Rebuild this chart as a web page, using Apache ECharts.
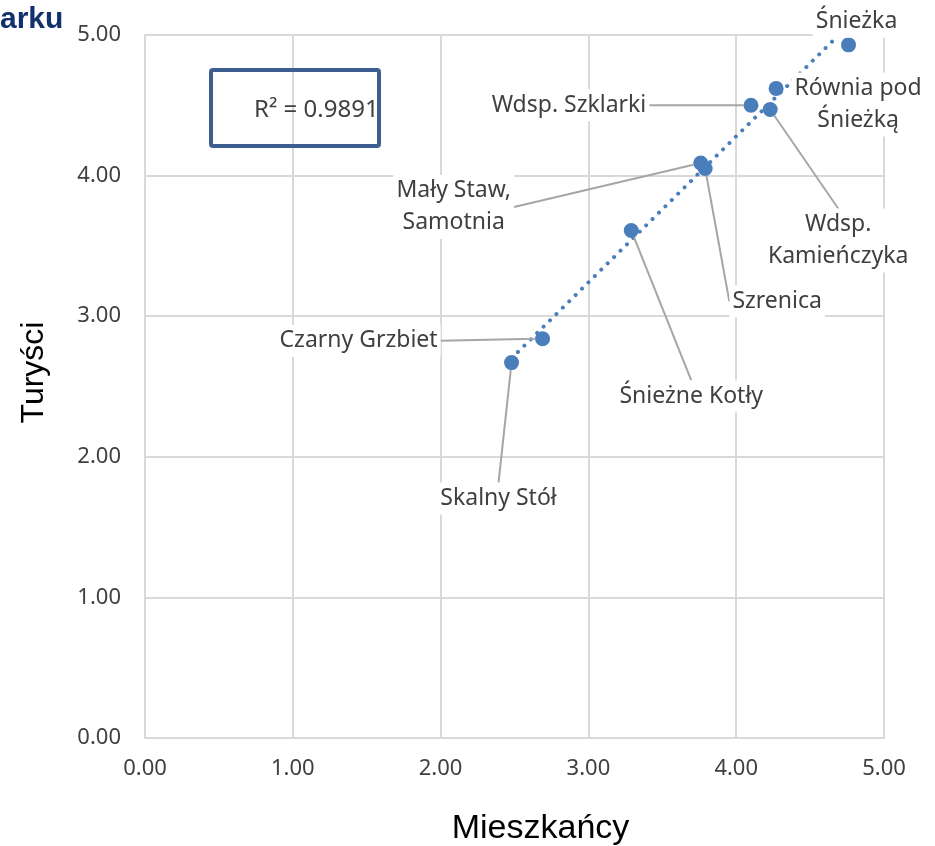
<!DOCTYPE html>
<html>
<head>
<meta charset="utf-8">
<script src="https://cdn.jsdelivr.net/npm/echarts@6/dist/echarts.min.js"></script>
<style>
html,body{margin:0;padding:0;background:#fff;}
#chart{width:935px;height:846px;}
</style>
</head>
<body>
<div id="chart"></div>
<script>
// ---- data ----
const places = ['Śnieżka', 'Równia pod\nŚnieżką', 'Wdsp. Szklarki', 'Wdsp.\nKamieńczyka', 'Mały Staw,\nSamotnia', 'Szrenica', 'Śnieżne Kotły', 'Czarny Grzbiet', 'Skalny Stół'];
const mieszkancy = [4.76, 4.27, 4.10, 4.23, 3.76, 3.79, 3.29, 2.69, 2.48];
const turysci    = [4.93, 4.62, 4.50, 4.47, 4.09, 4.05, 3.61, 2.84, 2.67];
const axisTicks = [0, 1, 2, 3, 4, 5];
const rSquaredText = 'R² = 0.9891';
const titleFragment = 'arku';
const xName = 'Mieszkańcy';
const yName = 'Turyści';

// ---- label placement (pixel offsets of label centre from its point) ----
const labelOffsets = {
  'Śnieżka': [8, -23, false],
  'Równia pod\nŚnieżką': [82, 16, false],
  'Wdsp. Szklarki': [-182, 0, true],
  'Wdsp.\nKamieńczyka': [68, 131, true],
  'Mały Staw,\nSamotnia': [-247, 44, true],
  'Szrenica': [72, 133, true],
  'Śnieżne Kotły': [60, 166, true],
  'Czarny Grzbiet': [-184, 2, true],
  'Skalny Stół': [-13, 136, true]
};

// linear trendline (least squares) from the data
const n = mieszkancy.length;
const mx = mieszkancy.reduce((a, b) => a + b, 0) / n;
const my = turysci.reduce((a, b) => a + b, 0) / n;
let sxy = 0, sxx = 0;
for (let i = 0; i < n; i++) { sxy += (mieszkancy[i] - mx) * (turysci[i] - my); sxx += (mieszkancy[i] - mx) ** 2; }
const slope = sxy / sxx, intercept = my - slope * mx;
const xMin = Math.min(...mieszkancy), xMax = Math.max(...mieszkancy);
const trend = [[xMin, intercept + slope * xMin], [xMax, intercept + slope * xMax]];

const points = places.map((p, i) => ({
  name: p,
  value: [mieszkancy[i], turysci[i]],
  labelLine: { show: labelOffsets[p][2] }
}));

const labelFont = 'Noto Sans';
const chart = echarts.init(document.getElementById('chart'), null, { renderer: 'canvas' });
chart.setOption({
  animation: false,
  backgroundColor: '#fff',
  grid: { left: 145, top: 35, right: 51, bottom: 108, containLabel: false, outerBoundsMode: 'none' },
  xAxis: {
    type: 'value', min: axisTicks[0], max: axisTicks[axisTicks.length - 1], interval: 1,
    name: xName, nameLocation: 'middle', nameGap: 74,
    nameTextStyle: { fontFamily: 'Liberation Sans', fontSize: 34, color: '#000', padding: [0, 0, 0, 52] },
    axisLine: { show: true, lineStyle: { color: '#d9d9d9', width: 2 } },
    axisTick: { show: false },
    axisLabel: { formatter: v => v.toFixed(2), fontFamily: labelFont, fontSize: 22, color: '#404040', margin: 20 },
    splitLine: { show: true, lineStyle: { color: '#d9d9d9', width: 2 } }
  },
  yAxis: {
    type: 'value', min: axisTicks[0], max: axisTicks[axisTicks.length - 1], interval: 1,
    name: yName, nameLocation: 'middle', nameGap: 95,
    nameTextStyle: { fontFamily: 'Liberation Sans', fontSize: 32, color: '#000', padding: [0, 0, 0, 28] },
    axisLine: { show: true, lineStyle: { color: '#d9d9d9', width: 2 } },
    axisTick: { show: false },
    axisLabel: { formatter: v => v.toFixed(2), fontFamily: labelFont, fontSize: 22, color: '#404040', margin: 24 },
    splitLine: { show: true, lineStyle: { color: '#d9d9d9', width: 2 } }
  },
  series: [
    {
      type: 'line',
      data: trend,
      showSymbol: false,
      symbol: 'none',
      clip: true,
      z: 3,
      lineStyle: { color: '#4a7ebb', width: 4, type: [0.01, 9], cap: 'round' },
      silent: true
    },
    {
      type: 'scatter',
      data: points,
      symbolSize: 15,
      z: 4,
      itemStyle: { color: '#4a7ebb', opacity: 1 },
      label: {
        show: true, position: 'inside', formatter: p => p.name,
        fontFamily: labelFont, fontSize: 23, lineHeight: 32, color: '#404040',
        backgroundColor: '#fff', padding: [0, 3], align: 'center', verticalAlign: 'middle'
      },
      labelLine: { show: true, lineStyle: { color: '#a6a6a6', width: 2 } },
      labelLayout: function (params) {
        const o = labelOffsets[places[params.dataIndex]];
        return { dx: o[0], dy: o[1] };
      }
    }
  ],
  graphic: [
    {
      type: 'text', left: 0, top: 5, z: 10,
      style: { text: titleFragment, fontFamily: 'Liberation Sans', fontWeight: 'bold', fontSize: 30, fill: '#12326e' }
    },
    {
      type: 'text', x: 254, y: 110, z: 10,
      style: { text: rSquaredText, fontFamily: labelFont, fontSize: 24, fill: '#404040', verticalAlign: 'middle', align: 'left' }
    },
    {
      type: 'rect', z: 11,
      shape: { x: 211, y: 70, width: 168, height: 76, r: 2 },
      style: { fill: 'none', stroke: '#3c5f8f', lineWidth: 4 }
    }
  ]
});
</script>
</body>
</html>
